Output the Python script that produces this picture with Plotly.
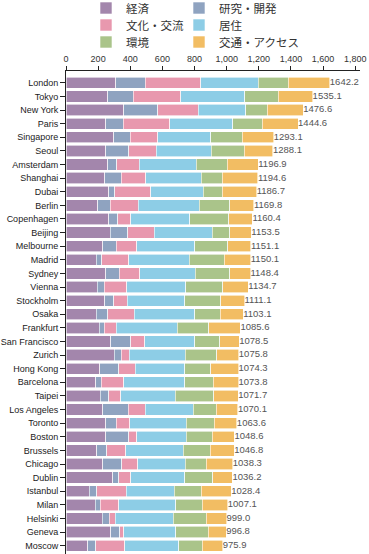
import plotly.graph_objects as go

cities = ["London", "Tokyo", "New York", "Paris", "Singapore", "Seoul", "Amsterdam", "Shanghai",
          "Dubai", "Berlin", "Copenhagen", "Beijing", "Melbourne", "Madrid", "Sydney", "Vienna",
          "Stockholm", "Osaka", "Frankfurt", "San Francisco", "Zurich", "Hong Kong", "Barcelona",
          "Taipei", "Los Angeles", "Toronto", "Boston", "Brussels", "Chicago", "Dublin", "Istanbul",
          "Milan", "Helsinki", "Geneva", "Moscow"]

economy = [309.7, 260.0, 358.2, 247.7, 297.3, 247.2, 260.2, 241.4, 266.5, 197.4, 265.7, 276.4,
           228.6, 189.3, 247.6, 195.7, 241.4, 187.3, 208.0, 279.0, 299.1, 209.9, 185.2, 212.7,
           227.4, 247.7, 247.6, 191.5, 228.9, 291.3, 143.6, 183.1, 226.4, 278.9, 135.3]
research = [185.0, 158.0, 212.4, 108.2, 104.0, 143.4, 56.2, 102.0, 37.5, 79.0, 56.0, 108.1,
            85.2, 33.3, 83.2, 43.7, 56.2, 72.8, 29.1, 124.9, 43.6, 118.4, 35.4, 54.2,
            158.5, 64.5, 141.5, 62.4, 118.6, 37.5, 47.9, 31.2, 41.5, 54.1, 49.9]
culture = [345.1, 297.4, 254.1, 289.3, 170.5, 172.4, 139.5, 154.0, 224.8, 174.5, 81.0, 166.3,
           126.7, 168.5, 129.0, 139.5, 83.2, 164.4, 74.9, 85.4, 51.9, 103.9, 139.4, 75.1,
           106.4, 85.3, 49.9, 118.6, 99.9, 72.8, 183.2, 114.4, 39.5, 27.1, 181.0]
livability = [357.5, 397.3, 293.7, 393.4, 330.6, 340.7, 356.0, 345.5, 326.9, 378.2, 367.4, 359.6,
              359.5, 376.4, 343.3, 366.4, 357.9, 376.7, 380.6, 312.3, 346.8, 305.5, 378.7, 337.8,
              298.3, 351.8, 310.0, 357.9, 295.5, 337.1, 297.7, 353.7, 361.4, 322.6, 337.1]
environment = [187.1, 208.0, 135.4, 183.2, 193.3, 205.7, 191.5, 129.0, 116.6, 191.2, 242.9, 110.2,
               207.8, 218.4, 216.4, 231.1, 224.7, 158.2, 195.5, 154.1, 197.3, 162.1, 176.9, 239.8,
               146.0, 172.8, 160.2, 166.5, 129.0, 174.8, 170.7, 164.4, 205.6, 203.9, 143.6]
access = [257.8, 214.4, 222.8, 222.8, 197.4, 178.7, 193.5, 222.7, 214.4, 149.5, 147.4, 132.9,
          143.3, 164.2, 129.0, 158.3, 147.7, 143.6, 197.6, 122.8, 137.1, 174.5, 158.2, 152.1,
          133.5, 141.5, 139.4, 149.8, 166.4, 122.7, 185.3, 160.3, 124.6, 110.2, 129.0]
totals = [1642.2, 1535.1, 1476.6, 1444.6, 1293.1, 1288.1, 1196.9, 1194.6, 1186.7, 1169.8,
          1160.4, 1153.5, 1151.1, 1150.1, 1148.4, 1134.7, 1111.1, 1103.1, 1085.6, 1078.5,
          1075.8, 1074.3, 1073.8, 1071.7, 1070.1, 1063.6, 1048.6, 1046.8, 1038.3, 1036.2,
          1028.4, 1007.1, 999.0, 996.8, 975.9]

series_names = ["経済", "研究・開発", "文化・交流", "居住", "環境", "交通・アクセス"]
series_values = [economy, research, culture, livability, environment, access]
colors = ["#a386ac", "#8fa3c0", "#e898ae", "#8dcde6", "#aac48a", "#f2bd63"]
legend_ids = ["legend", "legend2", "legend3", "legend4", "legend5", "legend6"]

fig = go.Figure()
for name, vals, col, lg in zip(series_names, series_values, colors, legend_ids):
    fig.add_trace(go.Bar(
        y=cities, x=vals, name=name, orientation="h",
        marker=dict(color=col, line=dict(color="white", width=0.6)),
        legend=lg, hoverinfo="x+y+name",
    ))

fig.add_trace(go.Scatter(
    y=cities, x=totals, mode="text",
    text=[f"{t:.1f}" for t in totals], textposition="middle right",
    textfont=dict(family="Liberation Sans, Arial, sans-serif", size=9.5, color="#555555"),
    showlegend=False, cliponaxis=False, hoverinfo="skip",
))

W, H = 369, 554
T, B = 71, 0

leg_common = dict(orientation="h", xref="container", yref="container",
                  xanchor="left", yanchor="middle",
                  font=dict(family="Noto Sans CJK JP", size=11.5, color="#333333"),
                  bgcolor="rgba(0,0,0,0)", itemclick=False, itemdoubleclick=False)
col_x = [86, 179]
row_y = [8, 25, 42]
legends = {}
for i, lg in enumerate(legend_ids):
    legends[lg] = dict(leg_common, x=col_x[i % 2] / W, y=1 - row_y[i // 2] / H)

fig.update_layout(
    width=W, height=H,
    margin=dict(l=66, r=8.5, t=T, b=B, pad=0, autoexpand=False),
    paper_bgcolor="white", plot_bgcolor="white",
    barmode="stack", bargap=0.17,
    showlegend=True,
    **legends,
    xaxis=dict(side="top", range=[0, 1830], tickvals=[0, 200, 400, 600, 800, 1000, 1200, 1400, 1600, 1800],
               ticktext=["0", "200", "400", "600", "800", "1,000", "1,200", "1,400", "1,600", "1,800"],
               showgrid=False, zeroline=False, showline=True, linecolor="#222222", linewidth=1,
               ticks="outside", ticklen=4, tickcolor="#222222",
               tickfont=dict(family="Liberation Sans, Arial, sans-serif", size=9, color="#333333"),
               fixedrange=True),
    yaxis=dict(categoryorder="array", categoryarray=cities, range=[34.61, -0.87],
               showgrid=False, zeroline=False, showline=True, linecolor="#222222", linewidth=1,
               ticks="outside", ticklen=5, tickcolor="#222222",
               tickfont=dict(family="Liberation Sans, Arial, sans-serif", size=9, color="#222222"),
               fixedrange=True),
)

fig.write_html("out.html", config={"displayModeBar": False},
               post_script="document.body.style.margin='0';")
